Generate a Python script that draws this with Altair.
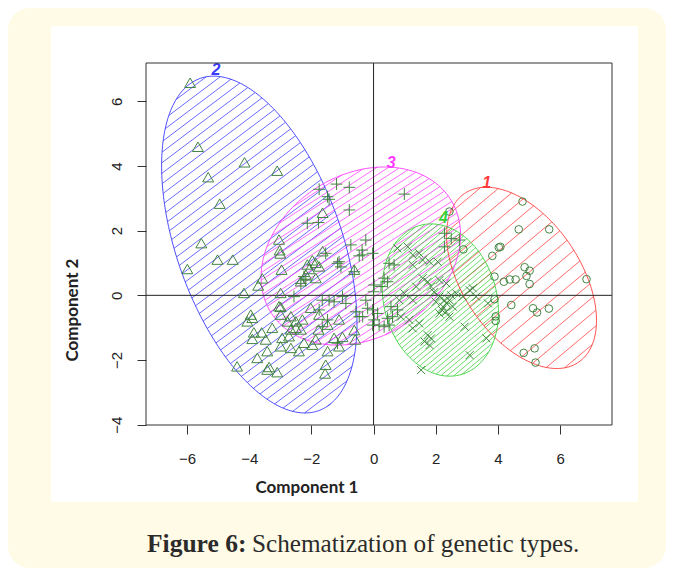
import altair as alt
import numpy as np
import pandas as pd

# ---------------- data ----------------
# cluster 1 : circles (red ellipse)
c1_x = [4.79, 5.65, 4.67, 4.08, 4.03, 3.82, 2.89, 4.86, 5.02, 4.92, 5.02, 4.57, 4.38, 4.19,
        3.89, 6.85, 4.43, 5.13, 5.26, 5.64, 3.89, 3.93, 3.93, 4.83, 5.18, 5.21, 2.44]
c1_y = [2.90, 2.04, 2.04, 1.50, 1.48, 1.22, 1.42, 0.87, 0.76, 0.60, 0.35, 0.49, 0.49, 0.42,
        0.58, 0.50, -0.30, -0.40, -0.53, -0.41, -0.12, -0.79, -0.65, -1.78, -1.64, -2.08, 2.59]

# cluster 2 : triangles (blue ellipse)
c2_x = [-5.90, -5.65, -4.15, -3.10, -5.32, -4.95, -5.54, -5.02, -4.53, -5.99, -4.17, -3.71,
        -3.58, -3.04, -3.02, -3.00, -2.96, -2.99, -2.99, -1.97, -2.07, -1.75, -2.18, -2.34,
        -1.86, -2.13, -1.86, -3.04, -2.99, -3.95, -3.90, -4.06, -2.66, -2.77, -2.50, -2.29,
        -2.66, -2.50, -2.34, -3.26, -3.60, -3.85, -3.90, -3.47, -2.94, -2.72, -2.99, -2.66,
        -2.40, -2.24, -3.42, -3.74, -4.39, -3.36, -3.10, -3.42, -1.54, -1.56, -1.86, -1.77,
        -1.48, -1.27, -1.00, -0.62, -0.59, -2.02, -1.75, -1.11, -1.48, -1.97, -1.11, -1.64,
        -1.64, -0.62]
c2_y = [6.56, 4.58, 4.10, 3.84, 3.64, 2.82, 1.60, 1.09, 1.09, 0.80, 0.06, 0.29,
        0.51, 1.71, 1.38, 1.28, 0.78, 0.06, -0.37, 1.07, 0.80, 0.88, 0.63, 0.42,
        0.52, 0.94, 0.99, -0.35, -0.61, -0.61, -0.71, -0.82, -0.66, -0.82, -0.82, -0.76,
        -1.07, -1.02, -1.07, -1.02, -1.16, -1.16, -1.36, -1.38, -1.33, -1.28, -1.59, -1.64,
        -1.74, -1.48, -1.74, -1.95, -2.21, -2.23, -2.39, -2.31, -2.16, -2.43, -1.38, -1.07,
        -0.92, -1.33, -1.30, -1.09, -1.38, -0.40, -0.61, -0.76, -1.74, -1.54, -1.59, 2.54,
        1.35, 0.78]

# cluster 3 : plus signs (magenta ellipse)
c3_x = [-1.19, -0.78, -1.75, -1.48, -1.43, -0.78, 0.99, -2.13, -1.77, -0.25, -0.73, -0.37,
        -0.03, -0.46, -1.11, -1.05, -2.24, -2.34, 0.02, 0.00, -1.00, -2.56, -2.18, -1.16,
        -0.62, -0.35, -1.54, -1.65, -1.43, -1.27, -0.89, -0.57, -1.75, -1.48, -0.46, -0.25,
        -0.19, -0.35, -0.03, -1.16, -1.65, 0.34, 0.45, 0.24, -0.03, 0.13, 0.02, 0.18,
        0.45, 0.61, 0.56, 0.77, 0.50, 0.34, 0.50, 0.66, 2.28, 2.28, 2.50, 2.76]
c3_y = [3.44, 3.34, 3.28, 3.05, 2.97, 2.64, 3.13, 2.23, 2.25, 1.71, 1.56, 1.40,
        1.30, 1.22, 1.04, 0.88, 0.58, 0.37, 0.32, 0.11, -0.04, -0.04, 0.47, 0.99,
        0.73, 1.25, 1.30, -0.15, -0.15, -0.20, -0.25, -0.51, -0.45, -0.76, -0.66, -0.15,
        -0.40, -0.66, -0.92, -1.48, -0.97, 0.53, 0.42, 0.27, -0.45, -0.56, -0.76, -0.92,
        -0.71, -0.66, -0.35, -0.45, -0.92, -0.97, 0.99, 0.94, 1.92, 1.50, 1.76, 1.71]

# cluster 4 : crosses (green ellipse)
c4_x = [1.10, 1.26, 1.47, 1.58, 1.80, 2.06, 1.26, 0.77, 1.58, 1.74, 2.12, 2.34, 1.85, 1.37,
        0.99, 1.26, 2.12, 2.28, 2.44, 2.66, 2.55, 2.23, 2.34, 2.12, 2.44, 3.09, 3.19, 2.93,
        3.63, 3.09, 1.47, 1.15, 1.26, 1.74, 1.85, 1.64, 1.80, 1.53, 0.83, 0.88, 3.68, 2.87,
        3.30, 2.00, 2.35, 2.50, 2.20, 1.95]
c4_y = [1.50, 1.25, 1.30, 1.09, 1.04, 1.04, 0.94, 1.45, 0.53, 0.42, 0.47, 0.37, 0.27, 0.27,
        0.06, -0.15, -0.04, -0.15, -0.15, 0.06, -0.35, -0.35, -0.51, -0.56, -0.66, 0.16, 0.22, -0.97,
        -1.33, -1.85, -0.87, -0.76, -1.02, -1.23, -1.33, -1.43, -1.54, -2.31, -0.15, -0.66, -0.25, -0.04,
        -0.04, -0.20, -0.25, 0.00, -0.45, 0.10]

# ellipses: centre, semi-axes, rotation (degrees) for clusters 1..4
ell_cx = [4.76, -3.675, -0.41, 2.15]
ell_cy = [0.54, 1.57, 1.215, -0.145]
ell_a = [3.19, 5.48, 3.38, 2.40]
ell_b = [1.87, 2.64, 2.54, 1.81]
ell_ang = [-53.9, 110.8, 28.5, -72.8]

cluster_names = ["1", "2", "3", "4"]
label_x = [3.64, -5.07, 0.57, 2.25]
label_y = [3.47, 6.97, 4.09, 2.39]

x_ticks = [-6, -4, -2, 0, 2, 4, 6]
y_ticks = [-4, -2, 0, 2, 4, 6]
caption_bold = "Figure 6:"
caption_rest = "Schematization of genetic types."
x_title = "Component 1"
y_title = "Component 2"

# ---------------- styles / layout ----------------
ell_colors = ["#ff3a3a", "#3a3aff", "#ff3aff", "#3ad03a"]
hatch_angle = [40, 37, 33, 40]      # degrees on screen
hatch_gap = [12.0, 8.4, 6.3, 4.2]   # px between hatch lines
PT = "#3a7f3a"

X0, X1 = -7.32, 7.67
Y0, Y1 = -4.01, 7.185
W, H = 466, 362
PAD_L, PAD_T, PAD_R, PAD_B = 138, 55, 54, 143
SX = W / (X1 - X0)
SY = H / (Y1 - Y0)

xs = alt.Scale(domain=[X0, X1], nice=False, zero=False)
ys = alt.Scale(domain=[Y0, Y1], nice=False, zero=False)
cscale = alt.Scale(domain=cluster_names, range=ell_colors)

ax_x = alt.Axis(values=x_ticks, title=None, domain=False, grid=False, ticks=True,
                tickSize=9, tickColor="#333", tickWidth=1, labelFont="Liberation Sans",
                labelFontSize=15, labelColor="#222", labelPadding=17, zindex=1,
                labelFlush=False, labelOverlap=False)
ax_y = alt.Axis(values=y_ticks, title=None, domain=False, grid=False, ticks=True,
                tickSize=9, tickColor="#333", tickWidth=1, labelFont="Liberation Sans",
                labelFontSize=15, labelColor="#222", labelPadding=13, zindex=1,
                labelAngle=270, labelAlign="center", labelBaseline="bottom",
                labelFlush=False, labelOverlap=False)


def ellipse(i, n=240):
    t = np.linspace(0, 2 * np.pi, n + 1)
    th = np.radians(ell_ang[i])
    x = ell_cx[i] + ell_a[i] * np.cos(t) * np.cos(th) - ell_b[i] * np.sin(t) * np.sin(th)
    y = ell_cy[i] + ell_a[i] * np.cos(t) * np.sin(th) + ell_b[i] * np.sin(t) * np.cos(th)
    return x, y


outline_rows = []
hatch_rows = []
for i, name in enumerate(cluster_names):
    ex, ey = ellipse(i)
    for k, (a, b) in enumerate(zip(ex, ey)):
        outline_rows.append({"x": a, "y": b, "o": k, "c": name})
    # hatching computed in pixel space
    px = (ex - X0) * SX
    py = (Y1 - ey) * SY
    al = np.radians(hatch_angle[i])
    nx, ny = np.sin(al), np.cos(al)
    s = px * nx + py * ny
    smin, smax = s.min(), s.max()
    lev = smin + hatch_gap[i] / 2
    while lev < smax:
        pts = []
        for j in range(len(px) - 1):
            s0, s1 = s[j], s[j + 1]
            if (s0 - lev) * (s1 - lev) < 0:
                f = (lev - s0) / (s1 - s0)
                pts.append((px[j] + f * (px[j + 1] - px[j]), py[j] + f * (py[j + 1] - py[j])))
        if len(pts) >= 2:
            pts.sort()
            (ax_, ay_), (bx_, by_) = pts[0], pts[-1]
            hatch_rows.append({"x": X0 + ax_ / SX, "y": Y1 - ay_ / SY,
                               "x2": X0 + bx_ / SX, "y2": Y1 - by_ / SY, "c": name})
        lev += hatch_gap[i]

outline_df = pd.DataFrame(outline_rows)
hatch_df = pd.DataFrame(hatch_rows)
dummy = pd.DataFrame({"d": [0]})

# ---------------- layers ----------------
cream = alt.Chart(dummy).mark_rect(fill="#fffbe6", cornerRadius=22).encode(
    x=alt.value(-PAD_L), x2=alt.value(W + PAD_R), y=alt.value(-PAD_T), y2=alt.value(H + PAD_B))
panel = alt.Chart(dummy).mark_rect(fill="white").encode(
    x=alt.value(-95), x2=alt.value(492), y=alt.value(-37), y2=alt.value(439))

hatch = alt.Chart(hatch_df).mark_rule(strokeWidth=0.75).encode(
    x=alt.X("x:Q", scale=xs, axis=ax_x), y=alt.Y("y:Q", scale=ys, axis=ax_y),
    x2="x2:Q", y2="y2:Q",
    color=alt.Color("c:N", scale=cscale, legend=None))

outline = alt.Chart(outline_df).mark_line(strokeWidth=0.9).encode(
    x=alt.X("x:Q", scale=xs, axis=ax_x), y=alt.Y("y:Q", scale=ys, axis=ax_y),
    order="o:Q", detail="c:N",
    color=alt.Color("c:N", scale=cscale, legend=None))

zero_df = pd.DataFrame({"v": [0]})
vline = alt.Chart(zero_df).mark_rule(color="#222", strokeWidth=1).encode(
    x=alt.X("v:Q", scale=xs, axis=ax_x))
hline = alt.Chart(zero_df).mark_rule(color="#222", strokeWidth=1).encode(
    y=alt.Y("v:Q", scale=ys, axis=ax_y))


def pts_layer(xv, yv, shape, size):
    df = pd.DataFrame({"x": xv, "y": yv})
    return alt.Chart(df).mark_point(shape=shape, size=size, filled=False, color=PT,
                                    strokeWidth=1, opacity=0.95).encode(
        x=alt.X("x:Q", scale=xs, axis=ax_x), y=alt.Y("y:Q", scale=ys, axis=ax_y))


p1 = pts_layer(c1_x, c1_y, "circle", 58)
p2 = pts_layer(c2_x, c2_y, "M0,-0.95L1,0.78L-1,0.78Z", 120)
p3 = pts_layer(c3_x, c3_y, "M-1,0L1,0M0,-1L0,1", 140)
p4 = pts_layer(c4_x, c4_y, "M-1,-1L1,1M-1,1L1,-1", 64)

lab_df = pd.DataFrame({"x": label_x, "y": label_y, "c": cluster_names})
labels = alt.Chart(lab_df).mark_text(font="Liberation Sans", fontSize=16, fontWeight="bold",
                                     fontStyle="italic", baseline="middle").encode(
    x=alt.X("x:Q", scale=xs, axis=ax_x), y=alt.Y("y:Q", scale=ys, axis=ax_y),
    text="c:N", color=alt.Color("c:N", scale=cscale, legend=None))

box = alt.Chart(dummy).mark_rect(fillOpacity=0, stroke="#333", strokeWidth=1).encode(
    x=alt.value(0), x2=alt.value(W), y=alt.value(0), y2=alt.value(H))

xt = alt.Chart(dummy).mark_text(text=x_title, font="Lato", fontWeight="bold", fontSize=17,
                                color="#222", baseline="middle").encode(
    x=alt.value(161), y=alt.value(425))
yt = alt.Chart(dummy).mark_text(text=y_title, font="Lato", fontWeight="bold", fontSize=17,
                                color="#222", baseline="middle", angle=270).encode(
    x=alt.value(-73), y=alt.value(247))
cap1 = alt.Chart(dummy).mark_text(text=caption_bold, font="Liberation Serif", fontWeight="bold",
                                  fontSize=25.5, color="#2b2b2b", align="left",
                                  baseline="alphabetic").encode(
    x=alt.value(1), y=alt.value(489))
cap2 = alt.Chart(dummy).mark_text(text=caption_rest, font="Liberation Serif", fontSize=25.2,
                                  color="#2b2b2b", align="left", baseline="alphabetic").encode(
    x=alt.value(106), y=alt.value(489))

chart = alt.layer(cream, panel, hatch, outline, vline, hline, p1, p2, p3, p4, labels, box,
                  xt, yt, cap1, cap2).properties(
    width=W, height=H,
    autosize=alt.AutoSizeParams(type="none"),
    padding={"left": PAD_L, "top": PAD_T, "right": PAD_R, "bottom": PAD_B},
    background="white",
).configure_view(stroke=None)

chart.save("out.html", embed_options={"renderer": "svg", "actions": False})
